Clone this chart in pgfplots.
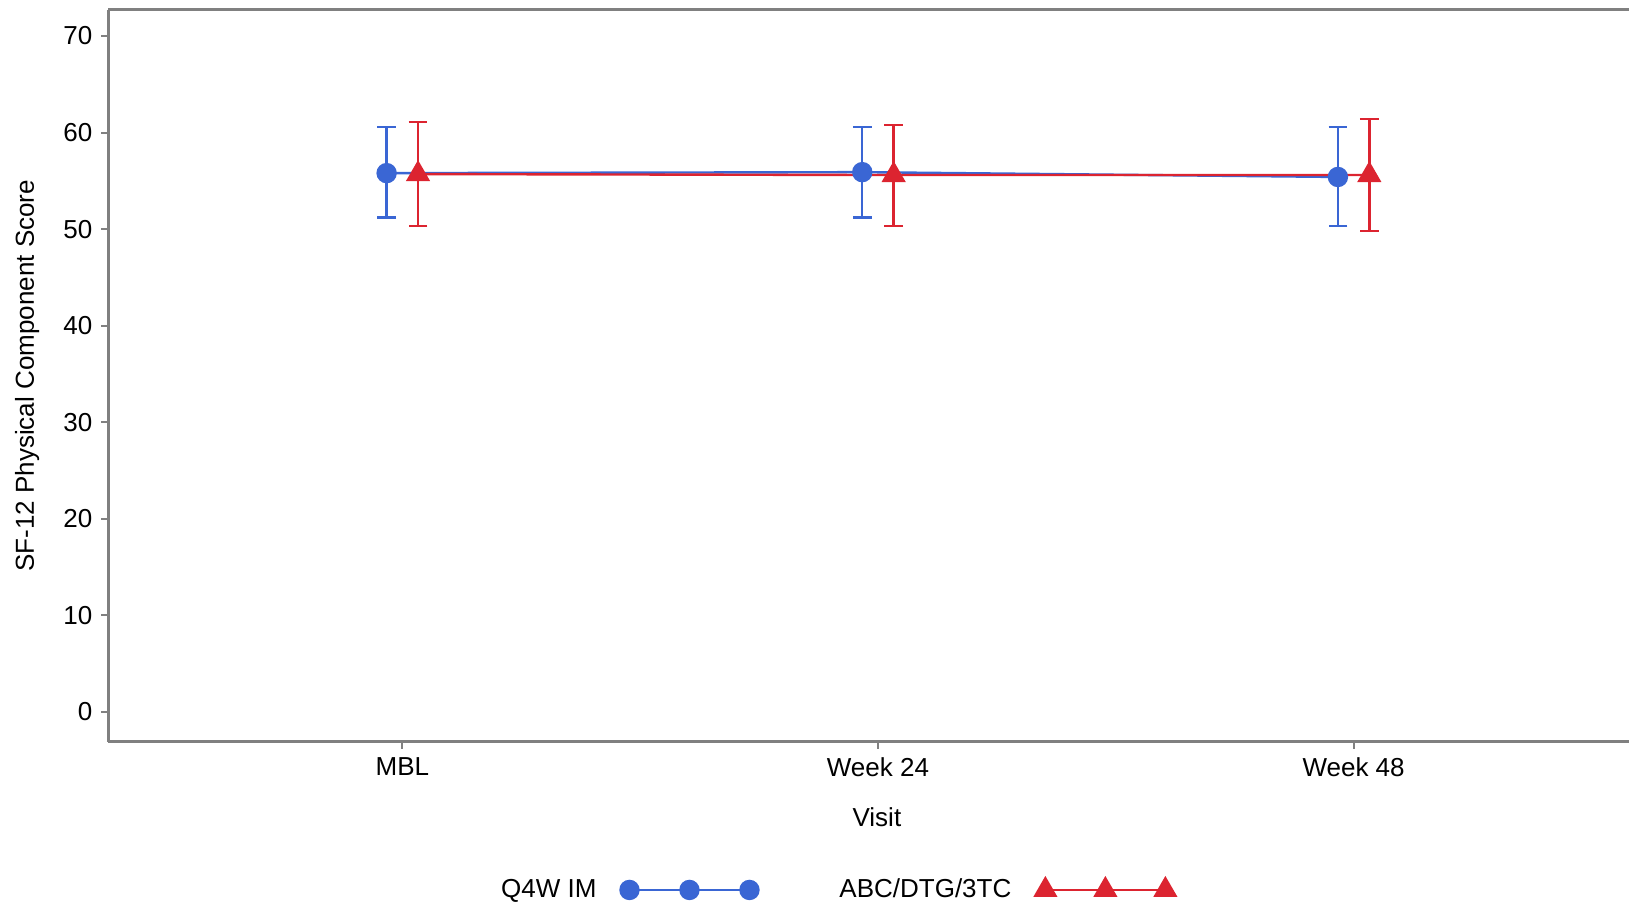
\documentclass[border=0pt]{standalone}
\usepackage{pgfplots}
\pgfplotsset{compat=1.18}
\usepackage{pgfplotstable}
\usepackage{fontspec}
\setmainfont{Liberation Sans}
\definecolor{sblue}{RGB}{58,102,212}
\definecolor{sred}{RGB}{220,36,48}
\definecolor{axgray}{RGB}{128,128,128}

\pgfplotstableread{
x y ep em
-0.033 55.8 4.8 4.6
0.967 55.9 4.7 4.7
1.967 55.4 5.2 5.1
}\blueT
\pgfplotstableread{
x y ep em
0.033 55.7 5.4 5.4
1.033 55.6 5.2 5.3
2.033 55.6 5.8 5.8
}\redT

\begin{document}
\fontsize{13bp}{15bp}\selectfont
\begin{tikzpicture}
\begin{axis}[
  scale only axis, width=760.35bp, height=365.85bp,
  xmin=-0.618, xmax=2.579, ymin=-3.1, ymax=72.7,
  axis x line*=bottom, axis y line*=left,
  axis line style={axgray, line width=1.5bp, -},
  xtick={0,1,2}, xticklabels={MBL,Week 24,Week 48},
  ytick={0,10,...,70},
  tick align=outside, major tick length=3.5bp,
  tick style={axgray, line width=1bp},
  /pgf/number format/assume math mode=true,
  ticklabel style={font=\fontsize{13bp}{15bp}\selectfont, black},
  xlabel={Visit}, ylabel={SF-12 Physical Component Score},
  every axis x label/.style={at={(axis description cs:0.5054,-0.103)}, anchor=center, font=\fontsize{13bp}{15bp}\selectfont},
  every axis y label/.style={at={(axis description cs:-0.0534,0.5)}, anchor=center, rotate=90, font=\fontsize{13bp}{15bp}\selectfont},
  legend plot pos=right,
  legend columns=2,
  legend style={draw=none, fill=none, at={(0.4787,-0.2027)}, anchor=center,
    font=\fontsize{13bp}{15bp}\selectfont,
    /tikz/every even column/.append style={column sep=38.5bp},
    /tikz/every odd column/.append style={column sep=10bp}},
  legend image code/.code={\draw[#1] plot coordinates {(0bp,0bp) (30bp,0bp) (60bp,0bp)};},
]
\addplot[sblue, line width=1.2bp, mark=*, mark size=4.5bp, mark options={solid, fill=sblue, draw=sblue},
  error bars/.cd, y dir=both, y explicit,
  error bar style={line width=1.2bp, sblue},
  error mark options={sblue, line width=1.2bp, mark size=4.7bp, rotate=90}]
  table[x=x, y=y, y error plus=ep, y error minus=em]{\blueT};
\addlegendentry{Q4W IM}
\addplot[sred, line width=1.2bp, mark=triangle*, mark size=5.8bp, mark options={solid, fill=sred, draw=sred},
  error bars/.cd, y dir=both, y explicit,
  error bar style={line width=1.2bp, sred},
  error mark options={sred, line width=1.2bp, mark size=4.7bp, rotate=90}]
  table[x=x, y=y, y error plus=ep, y error minus=em]{\redT};
\addlegendentry{ABC/DTG/3TC}
\coordinate (bl) at (rel axis cs:0,0);
\coordinate (tl) at (rel axis cs:0,1);
\coordinate (tr) at (rel axis cs:1,1);
\end{axis}
\draw[axgray, line width=1.5bp] (tl) -- (tr);
\pgfresetboundingbox
\path[use as bounding box] ([xshift=-54.2bp,yshift=-81.15bp]bl) rectangle ([yshift=5bp]tr);
\end{tikzpicture}
\end{document}
